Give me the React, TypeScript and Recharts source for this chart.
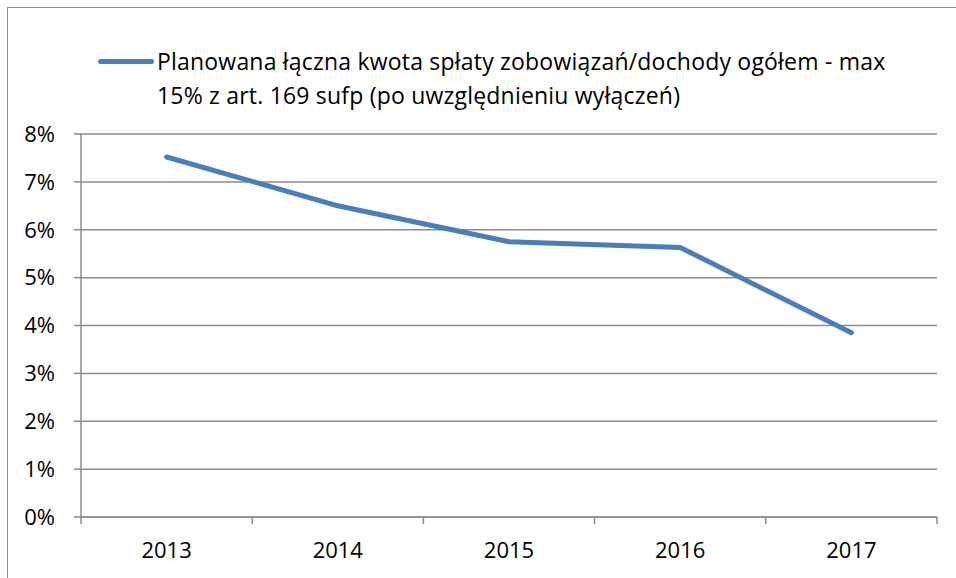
import { LineChart, Line, XAxis, YAxis, CartesianGrid, Legend } from 'recharts'

const years = ['2013', '2014', '2015', '2016', '2017']
const ratio = [7.52, 6.5, 5.75, 5.63, 3.85]
const yTicks = [0, 1, 2, 3, 4, 5, 6, 7, 8]
const seriesName = 'Planowana łączna kwota spłaty zobowiązań/dochody ogółem - max 15% z art. 169 sufp (po uwzględnieniu wyłączeń)'

const data = years.map((y, i) => ({ year: y, value: ratio[i] }))

const FONT = '"Open Sans", sans-serif'
const BLUE = '#4a7ebb'
const GRID = '#8c8c8c'

// year label in the middle of the band, tick marks on the band edges
function YearTick(props: any) {
  const { x, y, payload, index, visibleTicksCount, width } = props
  const half = payload.offset ?? width / visibleTicksCount / 2
  const last = index === visibleTicksCount - 1
  return (
    <g>
      <line x1={x - half} x2={x - half} y1={y - 8} y2={y - 1} stroke={GRID} strokeWidth={1.5} />
      {last && <line x1={x + half} x2={x + half} y1={y - 8} y2={y - 1} stroke={GRID} strokeWidth={1.5} />}
      <text x={x} y={y + 33} textAnchor="middle" fill="#000" fontSize={22} fontFamily={FONT}>{payload.value}</text>
    </g>
  )
}

function LegendBox() {
  return (
    <div style={{ position: 'relative', height: 80, fontFamily: FONT, fontSize: 23, letterSpacing: 0.2, color: '#000' }}>
      <div style={{ position: 'absolute', left: 98, top: 29, width: 56, height: 5, borderRadius: 3, background: BLUE }} />
      <div style={{ position: 'absolute', left: 157, top: 14, width: 765, lineHeight: '34px', textAlign: 'left' }}>{seriesName}</div>
    </div>
  )
}

export default function App() {
  return (
    <div style={{ position: 'absolute', left: 0, top: 0, width: 956, height: 578, overflow: 'hidden', background: '#fff' }}>
      <div style={{ position: 'absolute', left: 7, top: 7, width: 980, height: 600, border: `1.5px solid ${GRID}` }} />
      <LineChart width={956} height={578} data={data} margin={{ top: 54, right: 19, bottom: 31, left: 0 }}>
        <CartesianGrid vertical={false} stroke={GRID} strokeWidth={1.5} />
        <XAxis
          dataKey="year"
          scale="band"
          tickLine={false}
          axisLine={{ stroke: GRID, strokeWidth: 1.5 }}
          tick={<YearTick />}
          interval={0}
          height={30}
        />
        <YAxis
          domain={[0, 8]}
          ticks={yTicks}
          tickFormatter={(v: number) => `${v}%`}
          width={81}
          tickSize={7}
          tickMargin={19}
          tickLine={{ stroke: GRID, strokeWidth: 1.5 }}
          axisLine={{ stroke: GRID, strokeWidth: 1.5 }}
          tick={{ fill: '#000', fontSize: 22, fontFamily: FONT }}
        />
        <Legend verticalAlign="top" align="left" wrapperStyle={{ top: 30, left: 0, width: 956 }} content={<LegendBox />} />
        <Line
          dataKey="value"
          name={seriesName}
          stroke={BLUE}
          strokeWidth={5}
          strokeLinecap="round"
          dot={false}
          isAnimationActive={false}
        />
      </LineChart>
    </div>
  )
}
